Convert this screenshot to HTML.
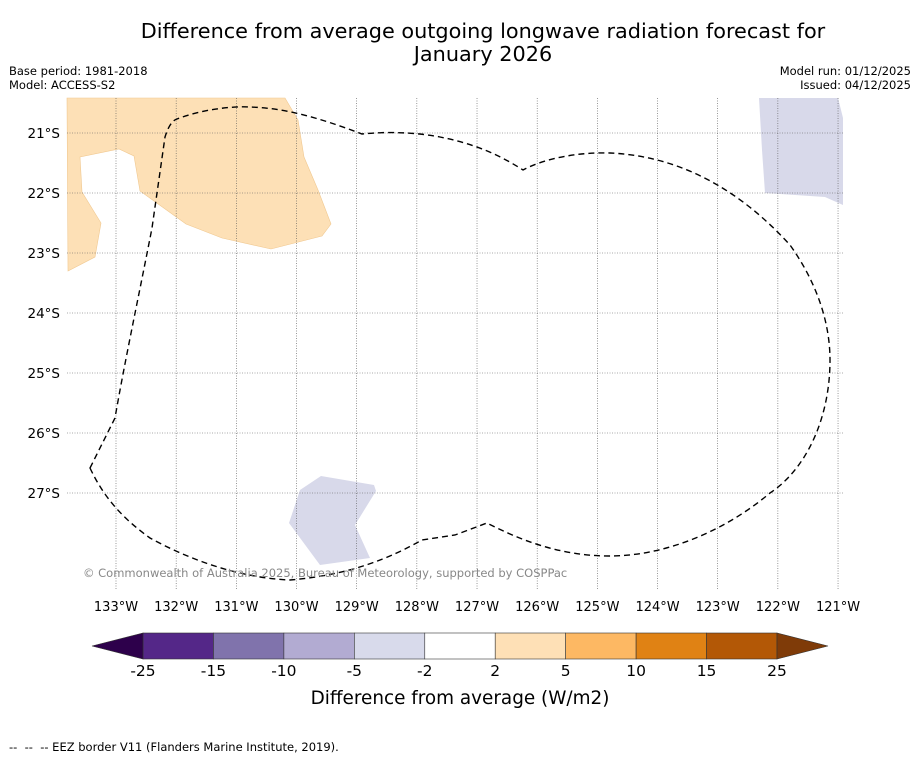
<!DOCTYPE html>
<html><head><meta charset="utf-8"><style>
body{margin:0;background:#fff;font-family:"DejaVu Sans","Liberation Sans",sans-serif;}
svg text{font-family:"DejaVu Sans","Liberation Sans",sans-serif;}
</style></head><body>
<svg id="chart" width="919" height="758" xmlns="http://www.w3.org/2000/svg">
<rect width="919" height="758" fill="#fff"/>
<text x="483" y="38" font-size="20.8" text-anchor="middle">Difference from average outgoing longwave radiation forecast for</text>
<text x="483" y="61" font-size="20.8" text-anchor="middle">January 2026</text>
<text x="9" y="75" font-size="11.5">Base period: 1981-2018</text>
<text x="9" y="89" font-size="11.5">Model: ACCESS-S2</text>
<text x="911" y="75" font-size="11.5" text-anchor="end">Model run: 01/12/2025</text>
<text x="911" y="89" font-size="11.5" text-anchor="end">Issued: 04/12/2025</text>
<g id="map">
<path d="M67,98 L285,98 L298,120 L304,157 L318,190 L331,224 L322,236 L271,249 L222,238 L186,224 L140,191 L134,156 L119,149 L80,157 L82,192 L101,223 L95,257 L68,271 Z" fill="#fde0b6" stroke="#f0c890" stroke-width="0.6"/>
<path d="M759,98 L838,98 L843,118 L843,205 L825,197 L765,193 L762,150 Z" fill="#d8d9ea"/>
<path d="M321,476 L374,485 L376,491 L355,525 L370,558 L320,565 L289,523 L300,490 Z" fill="#d8d9ea"/>
<g id="grid"></g>
<path d="M90,468 L115,418 C125,360 140,290 152,228 L165,137 Q170,121 177,119 C200,110 230,106 250,107 C285,108 320,118 362,134 C390,131 420,133 440,137 C470,143 495,152 523,170 C545,158 580,152 610,153 C680,156 740,190 790,245 C815,280 830,320 830,360 C830,420 805,470 770,493 C720,535 660,556 610,556 C560,556 520,540 487,523 L455,535 L422,540 C390,558 350,575 290,580 C240,578 190,560 150,538 C125,520 105,500 90,468 Z" fill="none" stroke="#000" stroke-width="1.4" stroke-dasharray="6,4"/>
<text x="83" y="577" font-size="11.5" fill="#888">© Commonwealth of Australia 2025, Bureau of Meteorology, supported by COSPPac</text>
</g>
<g id="colorbar"></g>
<text x="460" y="704" font-size="18.4" text-anchor="middle">Difference from average (W/m2)</text>
<text x="9" y="751" font-size="11.5" xml:space="preserve">--  --  -- EEZ border V11 (Flanders Marine Institute, 2019).</text>
</svg>
<script>
const lonTicks=[133,132,131,130,129,128,127,126,125,124,123,122,121];
const latTicks=[21,22,23,24,25,26,27];
const cbBounds=[-25,-15,-10,-5,-2,2,5,10,15,25];
const cbColors=["#542788","#8073ac","#b2abd2","#d8daeb","#ffffff","#fee0b6","#fdb863","#e08214","#b35806"];
const cbExtColors=["#2d004b","#7f3b08"];
const NS="http://www.w3.org/2000/svg";
const xLon=l=>116+(133-l)*60.17;
const yLat=l=>133+(l-21)*60;
function mk(tag,attrs,parent){const e=document.createElementNS(NS,tag);for(const k in attrs)e.setAttribute(k,attrs[k]);parent.appendChild(e);return e;}
const grid=document.getElementById('grid');
lonTicks.forEach(l=>{const x=xLon(l);
 const ln=mk('line',{x1:x,x2:x,y1:98,y2:590,stroke:'#555','stroke-width':0.6,'stroke-dasharray':'1,1.5'},grid);
 
 
 const t=mk('text',{x:x,y:611,'font-size':13,'text-anchor':'middle'},grid);t.textContent=l+'°W';
 
 
});
latTicks.forEach(l=>{const y=yLat(l);
 const ln=mk('line',{x1:67,x2:843,y1:y,y2:y,stroke:'#555','stroke-width':0.6,'stroke-dasharray':'1,1.5'},grid);
 
 
 const t=mk('text',{x:60,y:y+5,'font-size':13.5,'text-anchor':'end'},grid);t.textContent=l+'°S';
 
 
});
const cb=document.getElementById('colorbar');
const cx0=143,cx1=777,cy0=633,cy1=659,n=cbColors.length,w=(cx1-cx0)/n;
cbColors.forEach((c,i)=>{const r=mk('rect',{x:cx0+i*w,y:cy0,width:w,height:cy1-cy0,fill:c,stroke:'#333','stroke-width':0.6},cb);
 
 });
const lt=mk('polygon',{points:`${cx0},${cy0} ${cx0},${cy1} 92,646`,fill:cbExtColors[0],stroke:'#333','stroke-width':0.6},cb);


const rt=mk('polygon',{points:`${cx1},${cy0} ${cx1},${cy1} 828,646`,fill:cbExtColors[1],stroke:'#333','stroke-width':0.6},cb);


cbBounds.forEach((b,i)=>{const t=mk('text',{x:cx0+i*w,y:676,'font-size':15.5,'text-anchor':'middle'},cb);t.textContent=b;
 
 });
</script>
</body></html>
